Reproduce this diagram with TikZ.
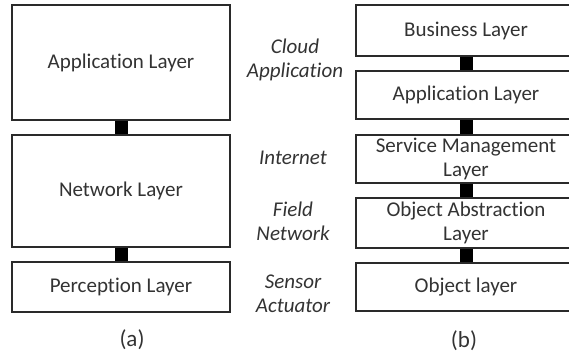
\documentclass[tikz,border=0pt]{standalone}
\usepackage{fontspec}
\setmainfont{Carlito}[Ligatures=NoCommon]
\definecolor{ink}{HTML}{333333}
\definecolor{edge}{HTML}{2A2A2A}
\tikzset{
  layer/.style={draw=edge, line width=1.6bp, fill=white, inner sep=0pt,
    minimum width=218bp, align=center, text=ink,
    font=\fontsize{21bp}{24bp}\selectfont},
  side/.style={align=center, text=ink, inner sep=0pt,
    font=\fontsize{21bp}{24bp}\selectfont\itshape},
  caption/.style={text=ink, inner sep=0pt, font=\fontsize{23bp}{26bp}\selectfont},
  link/.style={draw=black, line width=13bp, line cap=butt}
}
\begin{document}
\begin{tikzpicture}[x=1bp, y=-1bp]
  \useasboundingbox (0,0) rectangle (569,360);
  \clip (0,0) rectangle (569,360);

  % (a) three-layer model
  \node[layer, minimum height=115bp] (aapp) at (121,62.5) {\raisebox{-3bp}{Application Layer}};
  \node[layer, minimum height=112bp] (anet) at (121,191) {Network Layer};
  \node[layer, minimum height=50bp]  (aper) at (121,287) {Perception Layer};
  \draw[link] (aapp.south) -- (anet.north);
  \draw[link] (anet.south) -- (aper.north);
  \node[caption] (capa) at (132,340) {(a)};

  % (b) five-layer model
  \node[layer, minimum width=220bp, minimum height=51bp] (bbus) at (466,30.5) {Business Layer};
  \node[layer, minimum width=220bp, minimum height=48bp] (bapp) at (466,95) {Application Layer};
  \node[layer, minimum width=220bp, minimum height=48bp] (bsrv) at (466,159) {Service Management\\Layer};
  \node[layer, minimum width=220bp, minimum height=50bp] (bobj) at (466,223) {Object Abstraction\\Layer};
  \node[layer, minimum width=220bp, minimum height=48bp] (bphy) at (466,287) {Object layer};
  \draw[link] (bbus.south) -- (bapp.north);
  \draw[link] (bapp.south) -- (bsrv.north);
  \draw[link] (bsrv.south) -- (bobj.north);
  \draw[link] (bobj.south) -- (bphy.north);
  \node[caption] (capb) at (464,341) {(b)};

  % domain labels between the two stacks
  \node[side] (lcloud) at (295,60)    {Cloud\\Application};
  \node[side] (linet)  at (293,158)   {Internet};
  \node[side] (lfield) at (293,221)   {Field\\Network};
  \node[side] (lsens)  at (293,293.5) {Sensor\\Actuator};
\end{tikzpicture}
\end{document}
